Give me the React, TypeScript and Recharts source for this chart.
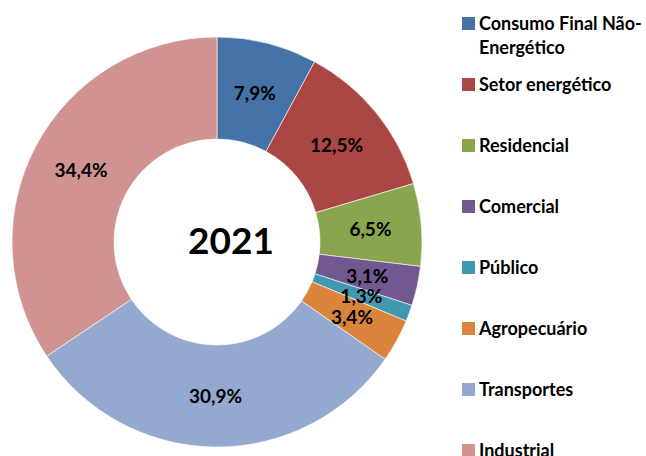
import { PieChart, Pie, Cell, Legend, Label } from 'recharts';

const SECTORS = [
    'Consumo Final Não-Energético',
    'Setor energético',
    'Residencial',
    'Comercial',
    'Público',
    'Agropecuário',
    'Transportes',
    'Industrial',
];

const SHARES = [7.9, 12.5, 6.5, 3.1, 1.3, 3.4, 30.9, 34.4];

const COLORS = ['#4572A7', '#AA4643', '#89A54E', '#71588F', '#4198AF', '#DB843D', '#93A9CF', '#D19392'];

const YEAR = '2021';

const FONT = 'Lato, "Open Sans", sans-serif';

const data = SECTORS.map((name, i) => ({ name, value: SHARES[i] }));

const RADIAN = Math.PI / 180;

function fmt(v: number) {
    return v.toFixed(1).replace('.', ',') + '%';
}

function renderSliceLabel(props: any) {
    const { cx, cy, midAngle, innerRadius, outerRadius, value } = props;
    const r = (innerRadius + outerRadius) / 2;
    const x = cx + r * Math.cos(-midAngle * RADIAN);
    const y = cy + r * Math.sin(-midAngle * RADIAN);
    return (
        <text
            x={x}
            y={y}
            textAnchor="middle"
            dominantBaseline="central"
            fontFamily={FONT}
            fontWeight={700}
            fontSize={19}
            fill="#000"
        >
            {fmt(value)}
        </text>
    );
}

// legend follows the data order, not alphabetical
function LegendBox() {
    return (
        <div style={{ position: 'relative', width: 184, height: 456, fontFamily: FONT }}>
            {SECTORS.map((name, idx) => (
                <div
                    key={name}
                    style={{
                        position: 'absolute',
                        left: 0,
                        top: 11 + idx * 61,
                        display: 'flex',
                        alignItems: 'flex-start',
                    }}
                >
                    <span
                        style={{
                            display: 'inline-block',
                            flex: '0 0 13px',
                            width: 13,
                            height: 13,
                            marginTop: 6,
                            background: COLORS[idx % COLORS.length],
                        }}
                    />
                    <span
                        style={{
                            marginLeft: 4,
                            width: 167,
                            fontSize: 18,
                            fontWeight: 700,
                            lineHeight: '24px',
                            color: '#000',
                        }}
                    >
                        {name}
                    </span>
                </div>
            ))}
        </div>
    );
}

export default function App() {
    return (
        <div style={{ position: 'absolute', left: 0, top: 0, width: 646, height: 456, background: '#fff' }}>
            <PieChart width={646} height={456} margin={{ top: 0, right: 0, bottom: 0, left: 0 }}>
                <Pie
                    data={data}
                    dataKey="value"
                    nameKey="name"
                    cx={217}
                    cy={242}
                    innerRadius={103}
                    outerRadius={205}
                    startAngle={90}
                    endAngle={-270}
                    stroke="#ffffff"
                    strokeWidth={0.6}
                    label={renderSliceLabel}
                    labelLine={false}
                    isAnimationActive={false}
                >
                    {data.map((_entry, index) => (
                        <Cell key={`cell-${index}`} fill={COLORS[index % COLORS.length]} />
                    ))}
                    <Label
                        value={YEAR}
                        position="center"
                        dy={13}
                        fontFamily={FONT}
                        fontWeight={700}
                        fontSize={37}
                        fill="#000"
                    />
                </Pie>
                <Legend
                    layout="vertical"
                    align="right"
                    verticalAlign="top"
                    content={<LegendBox />}
                    wrapperStyle={{ position: 'absolute', left: 462, top: 0, width: 184, height: 456 }}
                />
            </PieChart>
        </div>
    );
}
